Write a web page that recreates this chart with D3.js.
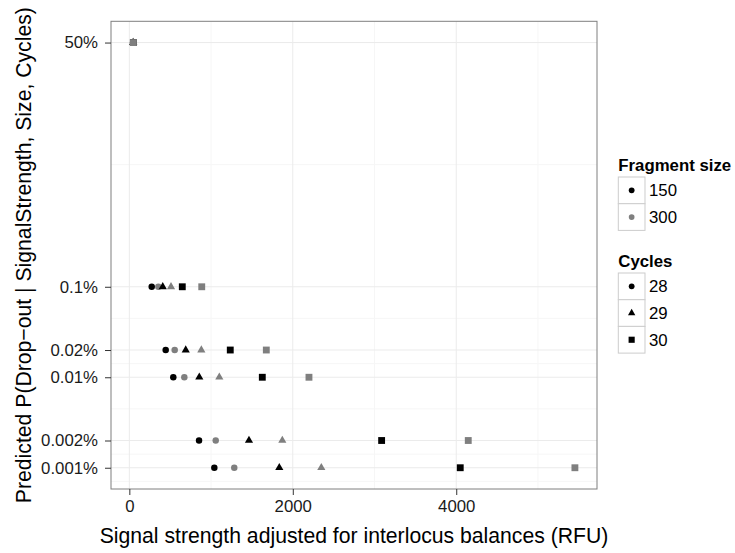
<!DOCTYPE html>
<html lang="en">
  <head>
    <meta charset="UTF-8" />
    <title>Predicted drop-out</title>
    <style>
      body {
        margin: 0;
        background-color: #fff;
      }
      svg {
        display: block;
        font-family: "Liberation Sans", Arial, sans-serif;
      }
      .grid-major {
        stroke: #ebebeb;
        stroke-width: 1;
      }
      .grid-minor {
        stroke: #f6f6f6;
        stroke-width: 1;
      }
      .axis text {
        font-size: 16.8px;
        fill: #1a1a1a;
      }
      .axis line {
        stroke: #333;
      }
    </style>
  </head>
  <body>
    <div class="container"></div>

    <script src="https://d3js.org/d3.v7.min.js"></script>
    <script>
      // predicted drop-out levels (y) and their labels
      const probLevels = [0.5, 0.001, 0.0002, 0.0001, 0.00002, 0.00001];
      const probLabels = ["50%", "0.1%", "0.02%", "0.01%", "0.002%", "0.001%"];
      const xTicks = [0, 2000, 4000];

      const sizes = ["150", "300"];
      const cycles = ["28", "29", "30"];

      // signal strength (RFU) reaching each level, per fragment size / cycles
      const s150c28 = [46, 274, 445, 538, 853, 1040];
      const s300c28 = [47, 355, 555, 673, 1057, 1284];
      const s150c29 = [47, 409, 690, 856, 1464, 1835];
      const s300c29 = [48, 510, 881, 1101, 1872, 2349];
      const s150c30 = [49, 648, 1235, 1627, 3087, 4049];
      const s300c30 = [50, 886, 1676, 2198, 4147, 5452];

      const series = [
        { size: "150", cyc: "28", vals: s150c28 },
        { size: "300", cyc: "28", vals: s300c28 },
        { size: "150", cyc: "29", vals: s150c29 },
        { size: "300", cyc: "29", vals: s300c29 },
        { size: "150", cyc: "30", vals: s150c30 },
        { size: "300", cyc: "30", vals: s300c30 }
      ];

      const points = [];
      series.forEach(s => {
        s.vals.forEach((v, i) => {
          points.push({ x: v, p: probLevels[i], size: s.size, cyc: s.cyc });
        });
      });

      const w = 735,
        h = 553;
      const panel = { left: 111, right: 597, top: 21.3, bottom: 489 };

      const colour = d3.scaleOrdinal().domain(sizes).range(["#000000", "#7f7f7f"]);
      const shape = d3
        .scaleOrdinal()
        .domain(cycles)
        .range([d3.symbolCircle, d3.symbolTriangle, d3.symbolSquare]);
      const area = { "28": 33, "29": 29, "30": 47 };

      // ggplot-like 5% expansion
      const xExt = d3.extent(points, d => d.x);
      const xPad = (xExt[1] - xExt[0]) * 0.05;
      const xScale = d3
        .scaleLinear()
        .domain([xExt[0] - xPad, xExt[1] + xPad])
        .range([panel.left, panel.right]);

      const lExt = d3.extent(probLevels, d => Math.log10(d));
      const lPad = (lExt[1] - lExt[0]) * 0.05;
      const yScale = d3
        .scaleLog()
        .domain([Math.pow(10, lExt[0] - lPad), Math.pow(10, lExt[1] + lPad)])
        .range([panel.bottom, panel.top]);

      const svg = d3
        .select(".container")
        .append("svg")
        .attr("width", w)
        .attr("height", h);

      // minor grid: halfway between breaks (in transformed space)
      const xMinor = [-1000, 1000, 3000, 5000].filter(
        d => d > xScale.domain()[0] && d < xScale.domain()[1]
      );
      const lb = probLevels.map(d => Math.log10(d)).sort((a, b) => a - b);
      const lbExt = [lb[0] - (lb[1] - lb[0])].concat(lb, [
        lb[lb.length - 1] + (lb[lb.length - 1] - lb[lb.length - 2])
      ]);
      const yMinor = d3
        .pairs(lbExt)
        .map(([a, b]) => Math.pow(10, (a + b) / 2))
        .filter(d => d > yScale.domain()[0] && d < yScale.domain()[1]);

      const grid = svg.append("g");
      grid
        .selectAll(".gx-minor")
        .data(xMinor)
        .enter()
        .append("line")
        .attr("class", "grid-minor")
        .attr("x1", d => xScale(d))
        .attr("x2", d => xScale(d))
        .attr("y1", panel.top)
        .attr("y2", panel.bottom);
      grid
        .selectAll(".gy-minor")
        .data(yMinor)
        .enter()
        .append("line")
        .attr("class", "grid-minor")
        .attr("x1", panel.left)
        .attr("x2", panel.right)
        .attr("y1", d => yScale(d))
        .attr("y2", d => yScale(d));
      grid
        .selectAll(".gx")
        .data(xTicks)
        .enter()
        .append("line")
        .attr("class", "grid-major")
        .attr("x1", d => xScale(d))
        .attr("x2", d => xScale(d))
        .attr("y1", panel.top)
        .attr("y2", panel.bottom);
      grid
        .selectAll(".gy")
        .data(probLevels)
        .enter()
        .append("line")
        .attr("class", "grid-major")
        .attr("x1", panel.left)
        .attr("x2", panel.right)
        .attr("y1", d => yScale(d))
        .attr("y2", d => yScale(d));

      // points
      svg
        .append("g")
        .selectAll("path")
        .data(points)
        .enter()
        .append("path")
        .attr("transform", d => "translate(" + xScale(d.x) + "," + yScale(d.p) + ")")
        .attr("d", d => d3.symbol().type(shape(d.cyc)).size(area[d.cyc])())
        .attr("fill", d => colour(d.size));

      // panel border
      svg
        .append("rect")
        .attr("x", panel.left)
        .attr("y", panel.top)
        .attr("width", panel.right - panel.left)
        .attr("height", panel.bottom - panel.top)
        .attr("fill", "none")
        .attr("stroke", "#7f7f7f")
        .attr("stroke-width", 1);

      // axes
      const xAxis = d3
        .axisBottom(xScale)
        .tickValues(xTicks)
        .tickFormat(d3.format("d"))
        .tickSize(6)
        .tickPadding(5);
      const yAxis = d3
        .axisLeft(yScale)
        .tickValues(probLevels)
        .tickFormat((d, i) => probLabels[i])
        .tickSize(6)
        .tickPadding(7);

      svg
        .append("g")
        .attr("class", "axis")
        .attr("transform", "translate(0," + panel.bottom + ")")
        .call(xAxis)
        .call(g => g.select(".domain").remove());

      svg
        .append("g")
        .attr("class", "axis")
        .attr("transform", "translate(" + panel.left + ",0)")
        .call(yAxis)
        .call(g => g.select(".domain").remove());

      // axis titles
      svg
        .append("text")
        .attr("x", (panel.left + panel.right) / 2)
        .attr("y", 543)
        .attr("text-anchor", "middle")
        .style("font-size", "21.2px")
        .text("Signal strength adjusted for interlocus balances (RFU)");

      svg
        .append("text")
        .attr("transform", "translate(31," + (panel.top + panel.bottom) / 2 + ") rotate(-90)")
        .attr("text-anchor", "middle")
        .style("font-size", "21.2px")
        .text("Predicted P(Drop\u2212out | SignalStrength, Size, Cycles)");

      // legends
      const keySize = 26.7,
        keyX = 618.3;

      const drawLegend = (title, titleY, items) => {
        const lg = svg.append("g");
        lg.append("text")
          .attr("x", keyX)
          .attr("y", titleY)
          .style("font-size", "16.8px")
          .style("font-weight", "bold")
          .text(title);
        const row = lg
          .selectAll("g")
          .data(items)
          .enter()
          .append("g")
          .attr("transform", (d, i) => "translate(" + keyX + "," + (titleY + 6 + i * keySize) + ")");
        row
          .append("rect")
          .attr("width", keySize)
          .attr("height", keySize)
          .attr("fill", "#fff")
          .attr("stroke", "#cccccc")
          .attr("stroke-width", 1);
        row
          .append("path")
          .attr("transform", "translate(" + keySize / 2 + "," + keySize / 2 + ")")
          .attr("d", d => d3.symbol().type(d.type).size(d.area)())
          .attr("fill", d => d.fill);
        row
          .append("text")
          .attr("x", keySize + 4)
          .attr("y", keySize / 2)
          .attr("dy", "0.35em")
          .style("font-size", "16.8px")
          .text(d => d.label);
      };

      drawLegend(
        "Fragment size",
        171,
        sizes.map(s => ({ label: s, type: d3.symbolCircle, area: 26, fill: colour(s) }))
      );
      drawLegend(
        "Cycles",
        267,
        cycles.map(c => ({ label: c, type: shape(c), area: area[c] * 0.8, fill: "#000" }))
      );
    </script>
  </body>
</html>
